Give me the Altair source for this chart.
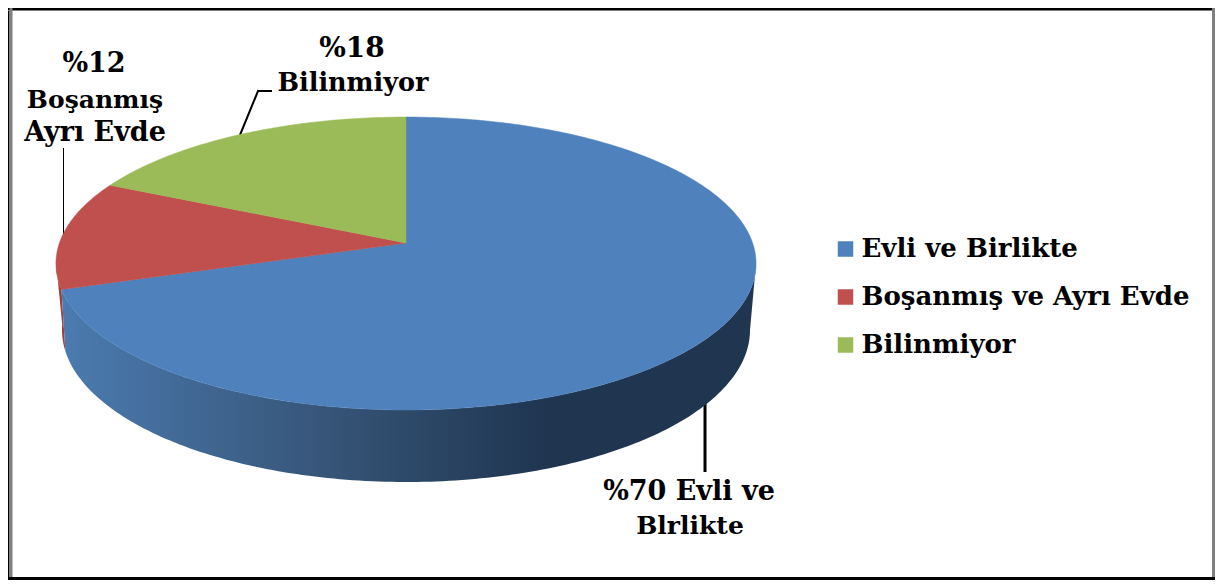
import math
import altair as alt
import pandas as pd

names = ["Evli ve Birlikte", "Boşanmış ve Ayrı Evde", "Bilinmiyor"]
shares = [70, 12, 18]
colors = ["#4f81bd", "#c0504d", "#9bbb59"]

label_text = ["%12", "Boşanmış", "Ayrı Evde", "%18", "Bilinmiyor", "%70 Evli ve", "Blrlikte"]

# layout of the annotations, in page pixels
label_x = [94, 95, 95, 352, 353, 689, 690]
label_y = [64, 100, 133, 49, 83, 492, 526]
label_size = [27, 25, 27, 28, 25.5, 27, 25]

# perspective of the pie
APEX_X, APEX_Y = 406, 243
A, B, C = 143.6, 0.14, 346.6
BOT_X, BOT_Y, BOT_RX, BOT_RY = 406, 330, 344, 152


def rim(share_pos):
    a = 2 * math.pi * share_pos / 100
    u, v = math.sin(a), math.cos(a)
    d = 1 + B * v
    return APEX_X + C * u / d, APEX_Y - A * v / d


def base(deg):
    t = math.radians(deg)
    return BOT_X + BOT_RX * math.sin(t), BOT_Y - BOT_RY * math.cos(t)


rows = []
start = 0
for name, share in zip(names, shares):
    n = max(3, share * 4)
    pts = [(APEX_X, APEX_Y)] + [rim(start + share * i / n) for i in range(n + 1)] + [(APEX_X, APEX_Y)]
    for i, (x, y) in enumerate(pts):
        rows.append({"name": name, "i": i, "x": x, "y": y})
    start += share
faces = pd.DataFrame(rows)


def wall(p0, p1, d0, d1):
    n = 160
    top = [rim(p0 + (p1 - p0) * i / n) for i in range(n + 1)]
    bot = [base(d1 + (d0 - d1) * i / n) for i in range(n + 1)]
    pts = top + bot + top[:1]
    return pd.DataFrame([{"i": i, "x": x, "y": y} for i, (x, y) in enumerate(pts)])


wall_blue = wall(27.2, 70, 90, 262)
wall_red = wall(70, 73, 262, 272)

xs = alt.Scale(domain=[8, 1215], range=[0, 1207])
ys = alt.Scale(domain=[580, 8], range=[572, 0])
X = alt.X("x:Q", scale=xs, axis=None)
Y = alt.Y("y:Q", scale=ys, axis=None)

grad = alt.Gradient(
    gradient="linear", x1=0, x2=1, y1=0, y2=0,
    stops=[
        alt.GradientStop(offset=0, color="#4b7bb0"),
        alt.GradientStop(offset=0.38, color="#365578"),
        alt.GradientStop(offset=0.7, color="#1f3550"),
        alt.GradientStop(offset=1, color="#1f3550"),
    ],
)

red_wall = alt.Chart(wall_red).mark_line(fill="#a23e3b", strokeWidth=0).encode(x=X, y=Y, order="i:Q")
blue_wall = alt.Chart(wall_blue).mark_line(fill=grad, strokeWidth=0).encode(x=X, y=Y, order="i:Q")

face_layers = []
for name, col in zip(names, colors):
    face_layers.append(
        alt.Chart(faces[faces["name"] == name]).mark_line(fill=col, stroke=col, strokeWidth=0.5).encode(x=X, y=Y, order="i:Q")
    )

legend_df = pd.DataFrame({"name": names, "x": [838] * 3, "y": [249, 297, 345]})
legend_layer = alt.Chart(legend_df).mark_square(size=0, filled=True).encode(
    x=X, y=Y,
    color=alt.Color(
        "name:N",
        scale=alt.Scale(domain=names, range=colors),
        sort=names,
        legend=alt.Legend(
            title=None, orient="none", legendX=824.5, legendY=228,
            symbolType="square", symbolSize=240, symbolOpacity=1, symbolStrokeWidth=0,
            labelFont="DejaVu Serif", labelFontWeight="bold", labelFontSize=26, labelColor="black",
            labelOffset=3, rowPadding=22, labelLimit=500,
        ),
    ),
)

labels = pd.DataFrame({"t": label_text, "x": label_x, "y": label_y, "s": label_size})
text = alt.Chart(labels).mark_text(
    font="DejaVu Serif", fontWeight="bold", color="black", align="center", baseline="middle"
).encode(x=X, y=Y, text="t:N", size=alt.Size("s:Q", scale=None, legend=None))

leaders = pd.DataFrame({
    "id": ["a", "a", "b", "b", "b", "c", "c"],
    "i": [0, 1, 0, 1, 2, 0, 1],
    "x": [63.5, 63.5, 240, 258, 272, 705, 705],
    "y": [148, 234, 135, 91, 91, 403, 472],
    "w": [1, 1, 2, 2, 2, 3, 3],
})
lead = alt.Chart(leaders).mark_line(color="black").encode(
    x=X, y=Y, order="i:Q", detail="id:N",
    strokeWidth=alt.StrokeWidth("w:Q", scale=None, legend=None),
)

frame = pd.DataFrame({
    "x": [8, 8, 1213.5, 8, 11, 8],
    "x2": [1215, 8, 1213.5, 1215, 11, 1215],
    "y": [9, 8, 8, 578.5, 8, 10.5],
    "y2": [9, 580, 580, 578.5, 577, 10.5],
    "c": ["#000000", "#000000", "#808080", "#000000", "#808080", "#808080"],
    "w": [2, 3, 3, 3, 3, 1],
})
frame_layer = alt.Chart(frame).mark_rule().encode(
    x=X, y=Y, x2="x2:Q", y2="y2:Q",
    color=alt.Color("c:N", scale=None),
    strokeWidth=alt.StrokeWidth("w:Q", scale=None, legend=None),
)

chart = alt.layer(
    frame_layer, lead, red_wall, blue_wall, *face_layers, text, legend_layer
).resolve_scale(color="independent").properties(
    width=1207, height=572, padding=0, autosize=alt.AutoSizeParams(type="none"),
    background="white",
).configure_view(stroke=None)

chart.save("out.html", embed_options={"renderer": "svg", "actions": False})
